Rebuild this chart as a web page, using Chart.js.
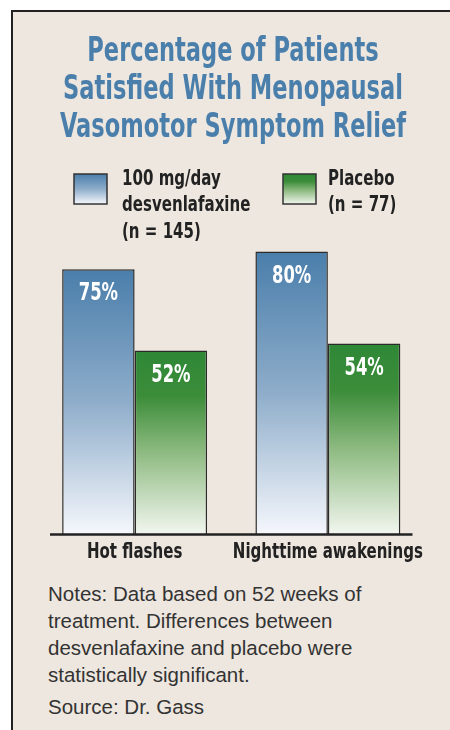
<!DOCTYPE html>
<html>
<head>
<meta charset="utf-8">
<script src="https://cdn.jsdelivr.net/npm/chart.js@4"></script>
<style>
    html, body { margin: 0; padding: 0; background: #fff; }
    #panel {
        position: absolute; left: 11px; top: 10px; width: 439px; height: 720px;
        background: #eee7df; border-left: 2px solid #222; border-top: 2px solid #222;
    }
    #wrap { position: absolute; left: 0; top: 0; width: 437px; height: 560px; }
    #notes {
        position: absolute; left: 35px; top: 568px; white-space: nowrap;
        font-family: 'Liberation Sans', Arial, sans-serif; font-size: 20.5px;
        line-height: 27px; color: #333;
    }
    #notes .src { margin-top: 5px; }
</style>
</head>
<body>
<div id="panel">
    <div id="wrap"><canvas id="myChart" width="437" height="560"></canvas></div>
    <div id="notes">
        Notes: Data based on 52 weeks of<br>
        treatment. Differences between<br>
        desvenlafaxine and placebo were<br>
        statistically significant.
        <div class="src">Source: Dr. Gass</div>
    </div>
</div>
<script>
const categories = ['Hot flashes', 'Nighttime awakenings'];
const drugValues = [75, 80];
const placeboValues = [52, 54];
const seriesNames = [['100 mg/day', 'desvenlafaxine', '(n = 145)'], ['Placebo', '(n = 77)']];
const titleLines = ['Percentage of Patients', 'Satisfied With Menopausal', 'Vasomotor Symptom Relief'];

// no narrow face installed, so the condensed font gets squeezed a bit more
const narrow = "'DejaVu Sans Condensed', 'DejaVu Sans', sans-serif";
const squeeze = 0.76;
const blueStops = [[0, '#4a7eab'], [0.5, '#8eadca'], [1, '#f5f7fc']];
const greenStops = [[0, '#2e8836'], [0.25, '#3c8d3a'], [0.55, '#8dba80'], [1, '#f2f6ef']];

function makeGradient(ctx, y0, y1, stops) {
    const g = ctx.createLinearGradient(0, y0, 0, y1);
    stops.forEach(s => g.addColorStop(s[0], s[1]));
    return g;
}

function barFill(stops) {
    return function (context) {
        const chart = context.chart;
        if (!chart.chartArea || context.type !== 'data') return stops[0][1];
        const y = chart.scales.y;
        return makeGradient(chart.ctx, y.getPixelForValue(context.raw), y.getPixelForValue(0), stops);
    };
}

function narrowText(ctx, text, x, y, align) {
    ctx.save();
    ctx.translate(x, y);
    ctx.scale(squeeze, 1);
    ctx.textAlign = align;
    ctx.fillText(text, 0, 0);
    ctx.restore();
}

// title, legend, value labels, category labels and the base line
const extras = {
    id: 'extras',
    afterDatasetsDraw(chart) {
        const ctx = chart.ctx;
        const area = chart.chartArea;
        ctx.save();
        ctx.textBaseline = 'middle';

        ctx.fillStyle = '#4a7fac';
        ctx.font = 'bold 33px ' + narrow;
        titleLines.forEach((line, k) => narrowText(ctx, line, 220, 40 + k * 38, 'center'));

        ctx.strokeStyle = '#222';
        ctx.lineWidth = 2.5;
        ctx.beginPath();
        ctx.moveTo(area.left + 12, area.bottom + 0.5);
        ctx.lineTo(area.right - 12, area.bottom + 0.5);
        ctx.stroke();

        ctx.fillStyle = '#222';
        ctx.font = 'bold 22px ' + narrow;
        categories.forEach((c, i) => {
            narrowText(ctx, c, chart.scales.x.getPixelForValue(i), area.bottom + 18, 'center');
        });

        ctx.fillStyle = '#fff';
        ctx.font = 'bold 24px ' + narrow;
        chart.data.datasets.forEach((ds, i) => {
            chart.getDatasetMeta(i).data.forEach((bar, j) => {
                narrowText(ctx, ds.data[j] + '%', bar.x, bar.y + 25, 'center');
            });
        });

        const boxes = [[61, 162, blueStops, 109], [270, 162, greenStops, 315]];
        boxes.forEach((b, i) => {
            ctx.fillStyle = makeGradient(ctx, b[1], b[1] + 30, b[2]);
            ctx.fillRect(b[0], b[1], 33, 30);
            ctx.strokeStyle = '#333';
            ctx.lineWidth = 1.5;
            ctx.strokeRect(b[0], b[1], 33, 30);
            ctx.fillStyle = '#222';
            ctx.font = 'bold 22px ' + narrow;
            seriesNames[i].forEach((line, k) => {
                narrowText(ctx, line, b[3], 167 + k * 26.5, 'left');
            });
        });
        ctx.restore();
    }
};

var ctx = document.getElementById('myChart').getContext('2d');
var myChart = new Chart(ctx, { //eslint-disable-line
    type: 'bar',
    data: {
        labels: categories,
        datasets: [{
            label: seriesNames[0].join(' '),
            data: drugValues,
            backgroundColor: barFill(blueStops),
            borderColor: '#2b2b2b',
            borderWidth: 1.5
        }, {
            label: seriesNames[1].join(' '),
            data: placeboValues,
            backgroundColor: barFill(greenStops),
            borderColor: '#2b2b2b',
            borderWidth: 1.5
        }]
    },
    options: {
        responsive: false,
        animation: false,
        events: [],
        layout: { padding: { left: 25, right: 25.5, top: 169, bottom: 30 } },
        datasets: { bar: { categoryPercentage: 0.75, barPercentage: 1 } },
        plugins: {
            legend: { display: false },
            tooltip: { enabled: false },
            title: { display: false }
        },
        scales: {
            x: {
                grid: { display: false },
                border: { display: false },
                ticks: { display: false }
            },
            y: { display: false, min: 0, max: 100 }
        }
    },
    plugins: [extras]
});
</script>
</body>
</html>
